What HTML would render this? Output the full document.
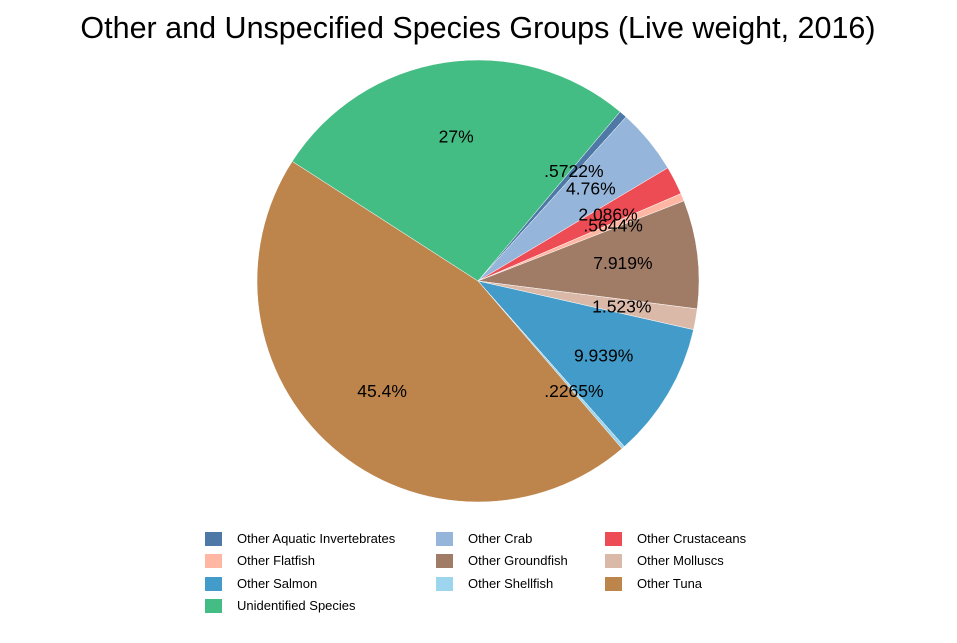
<!DOCTYPE html>
<html><head><meta charset="utf-8"><style>
body{margin:0;background:#fff;font-family:"Liberation Sans",Arial,sans-serif}
svg text{font-family:"Liberation Sans",Arial,sans-serif}
</style></head><body>
<svg id="chart" width="957" height="638">
<text x="478" y="38" text-anchor="middle" font-size="30.5" fill="#000">Other and Unspecified Species Groups (Live weight, 2016)</text>
<g id="slices"></g><g id="labels"></g><g id="legend"></g>
</svg>
<script>
const categories=["Other Aquatic Invertebrates","Other Crab","Other Crustaceans","Other Flatfish","Other Groundfish","Other Molluscs","Other Salmon","Other Shellfish","Other Tuna","Unidentified Species"];
const values=[0.5722,4.76,2.086,0.5644,7.919,1.523,9.939,0.2265,45.4,27];
const pctLabels=[".5722%","4.76%","2.086%",".5644%","7.919%","1.523%","9.939%",".2265%","45.4%","27%"];
const colors=["#4e79a7","#95b5da","#ee4c55","#ffb7a3","#a07c67","#dbb9a9","#429bc8","#9dd4ee","#bd854c","#44bd84"];
const NS="http://www.w3.org/2000/svg";
const cx=478,cy=281,R=221,start=40;
const total=values.reduce((a,b)=>a+b,0);
const sg=document.getElementById('slices'),lg=document.getElementById('labels'),leg=document.getElementById('legend');
function pt(a,r){const t=a*Math.PI/180;return [cx+r*Math.sin(t),cy-r*Math.cos(t)];}
let a=start;
values.forEach((v,i)=>{
 const sweep=v/total*360,a2=a+sweep;
 const p1=pt(a,R),p2=pt(a2,R);
 const p=document.createElementNS(NS,'path');
 p.setAttribute('d',`M${cx},${cy}L${p1[0]},${p1[1]}A${R},${R} 0 ${sweep>180?1:0} 1 ${p2[0]},${p2[1]}Z`);
 p.setAttribute('fill',colors[i]);
 p.setAttribute('stroke','#fff');p.setAttribute('stroke-width','0.5');
 
 
 sg.appendChild(p);
 const m=pt((a+a2)/2,146);
 const t=document.createElementNS(NS,'text');
 t.setAttribute('x',m[0]);t.setAttribute('y',m[1]+6);
 t.setAttribute('text-anchor','middle');t.setAttribute('font-size','17.5');
 t.textContent=pctLabels[i];
 
 
 lg.appendChild(t);
 a=a2;
});
const colX=[205,436,605],rowY=[539,561,584,606];
categories.forEach((c,i)=>{
 const x=colX[i%3],y=rowY[Math.floor(i/3)];
 const g=document.createElementNS(NS,'g');
 
 
 const r=document.createElementNS(NS,'rect');
 r.setAttribute('x',x);r.setAttribute('y',y-7);r.setAttribute('width',17);r.setAttribute('height',14);
 r.setAttribute('fill',colors[i]);
 const t=document.createElementNS(NS,'text');
 t.setAttribute('x',x+32);t.setAttribute('y',y+4);t.setAttribute('font-size','13');
 t.textContent=c;
 g.appendChild(r);g.appendChild(t);leg.appendChild(g);
});
</script>
</body></html>
